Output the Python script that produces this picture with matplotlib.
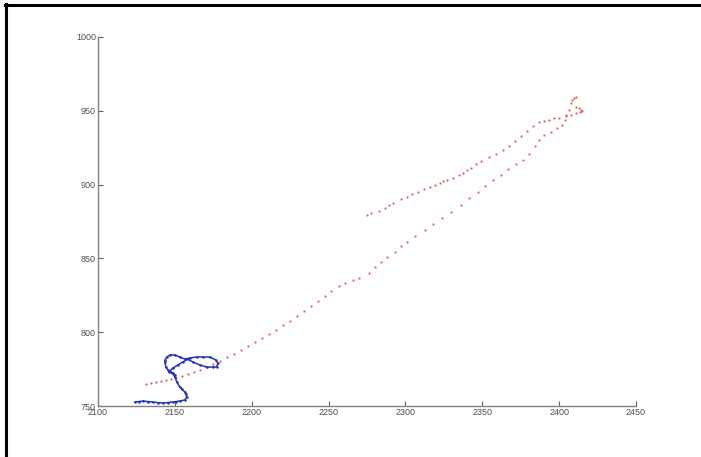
import matplotlib.pyplot as plt
from matplotlib.lines import Line2D

plt.rcParams['font.family'] = ['Liberation Sans Narrow', 'Liberation Sans', 'DejaVu Sans']

# red track: outbound (lower) leg, turn-around cluster, return (upper) leg
red_x = [2131.2, 2134.4, 2137.7, 2140.9, 2144.2, 2147.4, 2150.7, 2154.5, 2158.4, 2162.3,
         2166.2, 2170.1, 2174.7, 2179.2, 2183.8, 2188.3, 2192.9, 2197.4, 2202.0, 2206.5,
         2211.0, 2215.6, 2220.1, 2224.7, 2229.2, 2233.8, 2238.3, 2242.9, 2247.4, 2251.9,
         2256.5, 2261.0, 2265.6, 2270.1, 2276.6, 2280.5, 2284.4, 2288.3, 2293.5, 2297.4,
         2301.3, 2306.5, 2313.0, 2318.2, 2324.0, 2329.9, 2336.4, 2341.6, 2347.4, 2352.0,
         2357.2, 2362.4, 2366.9, 2372.1, 2376.6, 2380.5, 2384.4, 2387.0, 2390.3, 2394.8,
         2398.7, 2402.0, 2403.9, 2404.6, 2406.5,
         2407.8, 2408.5, 2409.8, 2411.1, 2411.1, 2413.0, 2414.3, 2415.0, 2413.7,
         2411.1, 2407.8, 2404.6, 2400.0, 2396.8, 2393.5, 2390.3, 2387.0, 2383.1, 2379.2,
         2375.3, 2371.4, 2367.5, 2363.6, 2359.1, 2354.6, 2349.4, 2346.1, 2342.9, 2340.3,
         2337.7, 2335.1, 2331.2, 2327.3, 2324.7, 2322.7, 2319.5, 2316.2, 2312.4, 2308.5,
         2304.6, 2300.7, 2296.8, 2292.2, 2289.6, 2286.4, 2282.5, 2277.9, 2275.3]
red_y = [764.9, 765.6, 766.3, 766.9, 767.6, 768.3, 769.0, 770.3, 771.7, 773.0,
         774.4, 776.4, 778.5, 780.5, 783.2, 785.2, 787.9, 790.6, 793.4, 796.1,
         798.8, 801.5, 804.9, 807.6, 811.0, 814.4, 817.8, 821.1, 824.5, 827.9,
         831.3, 833.3, 835.4, 836.7, 840.1, 844.2, 847.6, 850.9, 854.3, 858.4,
         861.1, 865.2, 869.2, 873.3, 877.4, 881.4, 886.2, 890.9, 895.0, 899.1,
         903.1, 906.5, 910.6, 914.0, 916.7, 920.7, 926.2, 930.2, 933.6, 935.6,
         938.3, 940.4, 943.8, 947.2, 950.5,
         955.3, 957.3, 958.7, 959.4, 952.6, 951.9, 950.5, 949.9, 949.2,
         948.5, 947.2, 946.5, 945.1, 945.1, 943.8, 943.1, 942.4, 939.7, 936.3,
         932.9, 929.5, 926.2, 923.4, 920.7, 918.7, 916.0, 914.0, 911.2, 909.9,
         907.9, 906.5, 904.5, 903.1, 902.4, 901.1, 899.7, 898.4, 897.0, 895.0,
         893.6, 891.6, 890.2, 887.5, 886.2, 884.1, 882.1, 880.8, 879.4]

# blue track: short wandering path near the lower-left corner
blue_x = [2124.0, 2126.5, 2129.2, 2132.4, 2135.7, 2139.0, 2142.2, 2145.5, 2148.7, 2151.0,
          2153.2, 2156.5, 2157.8, 2157.2, 2156.5, 2154.8, 2153.2, 2151.3, 2150.0, 2148.7,
          2145.5, 2144.2, 2143.5, 2143.8, 2144.8, 2146.8, 2150.0, 2153.2, 2156.5, 2159.7,
          2164.3, 2168.2, 2172.7, 2176.6, 2177.9, 2177.3, 2174.7, 2170.8, 2166.2, 2161.7,
          2158.4, 2155.2, 2152.0, 2148.7, 2146.1, 2148.1, 2150.0]
blue_y = [752.7, 753.0, 753.4, 753.0, 752.7, 752.3, 752.0, 752.3, 752.7, 753.0,
          753.4, 754.1, 756.1, 757.8, 759.5, 761.2, 762.9, 766.3, 769.6, 772.4,
          774.4, 776.4, 779.8, 781.5, 783.2, 784.6, 784.6, 783.2, 781.8, 782.5,
          783.2, 783.2, 783.2, 781.2, 779.1, 776.4, 776.4, 776.4, 777.8, 779.8,
          781.8, 779.8, 777.8, 775.7, 773.0, 772.4, 771.0]

x_ticks = [2100, 2150, 2200, 2250, 2300, 2350, 2400, 2450]
y_ticks = [750, 800, 850, 900, 950, 1000]

W, H = 701, 457
fig = plt.figure(figsize=(W / 100, H / 100), dpi=100)
ax = fig.add_axes([98 / W, 1 - 406 / H, (636 - 98) / W, (406 - 37) / H])

ax.plot(red_x, red_y, 'o', color='#d84848', markersize=1.6, markeredgewidth=0, alpha=0.85)
ax.plot(blue_x, blue_y, '-', color='#2233b8', linewidth=1.1, marker='o',
        markersize=1.8, markeredgewidth=0)

ax.set_xlim(2100, 2450)
ax.set_ylim(750, 1000)
ax.set_xticks(x_ticks)
ax.set_yticks(y_ticks)
ax.spines[['top', 'right']].set_visible(False)
for s in ('left', 'bottom'):
    ax.spines[s].set_color('#808080')
    ax.spines[s].set_linewidth(1.0)
ax.tick_params(direction='in', length=3.5, width=0.8, color='#606060',
               labelsize=6.5, labelcolor='#505050', pad=1.5)

# black page frame (top and left rules)
fig.add_artist(Line2D([5 / W, 1], [1 - 5 / H, 1 - 5 / H], color='black', linewidth=2.2,
                      transform=fig.transFigure))
fig.add_artist(Line2D([6 / W, 6 / W], [0, 1 - 4 / H], color='black', linewidth=2.2,
                      transform=fig.transFigure))

fig.savefig('out.png', dpi=100)
